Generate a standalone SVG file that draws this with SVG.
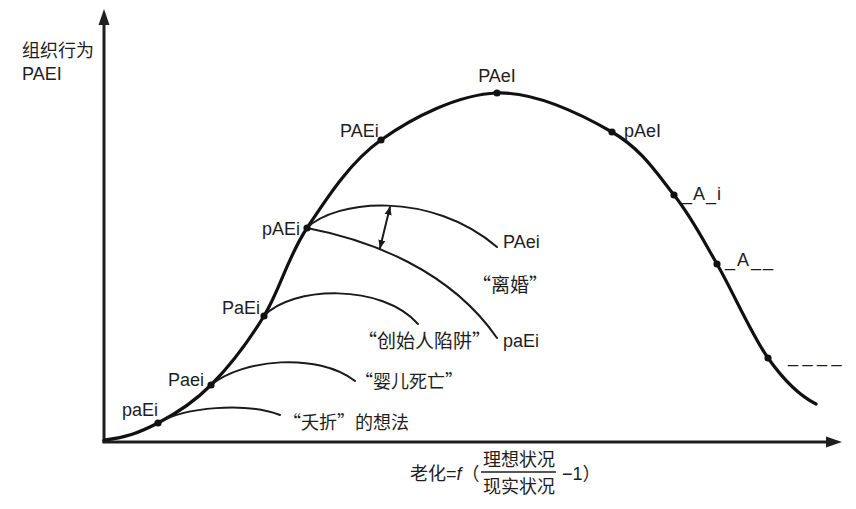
<svg xmlns="http://www.w3.org/2000/svg" width="856" height="509" viewBox="0 0 856 509">
<style>
text{font-family:"Liberation Sans","Noto Sans CJK SC",Arial,sans-serif;font-size:18px;fill:#1e1e1e}
text.cn{font-family:"Noto Sans CJK SC","Liberation Sans",sans-serif;font-size:18px}
.axis{stroke:#1e1e1e;stroke-width:3;fill:none}
.main{stroke:#111;stroke-width:3.2;fill:none;stroke-linecap:round}
.branch{stroke:#1a1a1a;stroke-width:2;fill:none;stroke-linecap:round}
.dot{fill:#111}
</style>
<defs>
<marker id="ah" viewBox="0 0 10 10" refX="9" refY="5" markerWidth="9" markerHeight="9" markerUnits="userSpaceOnUse" orient="auto-start-reverse">
<path d="M0,1 L10,5 L0,9 Z" fill="#1a1a1a"/>
</marker>
</defs>
<rect width="856" height="509" fill="#fff"/>
<g id="axes">
<line class="axis" x1="104" y1="443" x2="104" y2="22"/>
<path d="M98.5,25 L104,9 L109.5,25 Z" fill="#1e1e1e"/>
<line class="axis" x1="102.5" y1="442" x2="830" y2="442"/>
<path d="M826,436.5 L842,442 L826,447.5 Z" fill="#1e1e1e"/>
<text x="22" y="57">组织行为</text>
<text x="22" y="80">PAEI</text>
</g>
<g id="connectors">
<path id="lifecycle" class="main" d="M104,440 C125,438 140.2,432.2 158,423 C175.8,413.8 193.3,402.8 211,385 C228.7,367.2 248,342.2 264,316 C280,289.8 287.5,257.3 307,228 C326.5,198.7 349.3,162.5 381,140 C412.7,117.5 458.5,94.3 497,93 C535.5,91.7 582.5,115 612,132 C641.5,149 656.5,173 674,195 C691.5,217 701.3,236.8 717,264 C732.7,291.2 751.5,334.7 768,358 C784.5,381.3 800,396 816,404"/>
<path class="branch" d="M158,423 C185,407 245,402 280,415"/>
<path class="branch" d="M211,385 C242,359 318,352 355,381"/>
<path class="branch" d="M264,316 C292,286 382,283 418,324"/>
<path class="branch" d="M307,228 C335,200 430,190 497,247"/>
<path class="branch" d="M307,228 C370,240 450,270 497,338"/>
<line class="branch" x1="390" y1="207" x2="380" y2="248" stroke-width="1.6" marker-start="url(#ah)" marker-end="url(#ah)"/>
</g>
<g id="n-paEi-low"><circle class="dot" cx="158" cy="423" r="3.6"/><text x="122" y="416">paEi</text></g>
<g id="n-Paei"><circle class="dot" cx="211" cy="385" r="3.6"/><text x="168" y="386">Paei</text></g>
<g id="n-PaEi"><circle class="dot" cx="264" cy="316" r="3.6"/><text x="222" y="314">PaEi</text></g>
<g id="n-pAEi"><circle class="dot" cx="307" cy="228" r="3.6"/><text x="262" y="235">pAEi</text></g>
<g id="n-PAEi"><circle class="dot" cx="381" cy="140" r="3.6"/><text x="340" y="137">PAEi</text></g>
<g id="n-PAeI"><circle class="dot" cx="497" cy="93" r="3.6"/><text x="497" y="82" text-anchor="middle">PAeI</text></g>
<g id="n-pAeI"><circle class="dot" cx="612" cy="132" r="3.6"/><text x="624" y="137">pAeI</text></g>
<g id="n-A_i"><circle class="dot" cx="674" cy="195" r="3.6"/><text x="682" y="200" letter-spacing="1">_A_i</text></g>
<g id="n-A__"><circle class="dot" cx="717" cy="264" r="3.6"/><text x="725" y="266" letter-spacing="2">_A__</text></g>
<g id="n-dead"><circle class="dot" cx="768" cy="358" r="3.6"/><text x="788" y="362" letter-spacing="4.5">____</text></g>
<g id="labels">
<text class="cn" x="283" y="429">“夭折”的想法</text>
<text class="cn" x="355" y="388">“婴儿死亡”</text>
<text class="cn" x="358" y="348" style="font-size:19px">“创始人陷阱”</text>
<text x="503" y="347">paEi</text>
<text class="cn" x="472" y="292" style="font-size:19px">“离婚”</text>
<text x="503" y="248">PAei</text>
</g>
<g id="formula">
<text x="410" y="480">老化=<tspan font-style="italic">f</tspan>（</text>
<text x="483" y="466">理想状况</text>
<line x1="481" y1="472" x2="556" y2="472" stroke="#1e1e1e" stroke-width="1.5"/>
<text x="483" y="493">现实状况</text>
<text x="562" y="480">−1）</text>
</g>
</svg>
